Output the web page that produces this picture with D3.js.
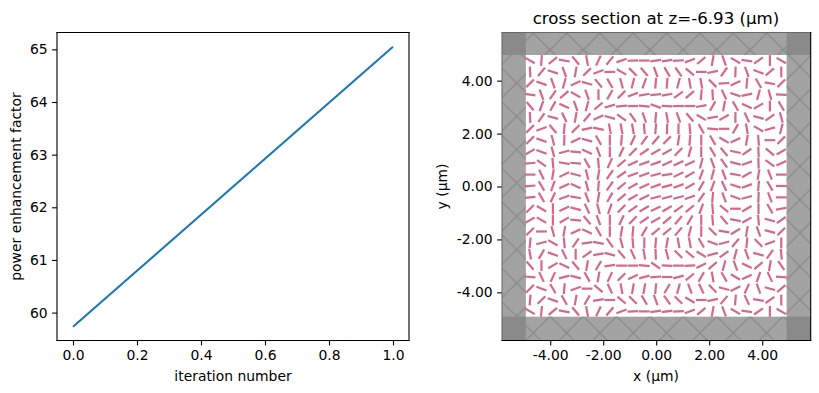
<!DOCTYPE html>
<html>
<head>
<meta charset="utf-8">
<script src="https://cdn.jsdelivr.net/npm/d3@7/dist/d3.min.js"></script>
<style>
  html, body { margin: 0; padding: 0; background: #fff; }
  svg { display: block; }
  text { font-family: 'DejaVu Sans', sans-serif; fill: #000; }
</style>
</head>
<body>
<svg id="chart" width="819" height="393"></svg>
<script>
// Left panel
const iterations = [0, 1];
const enhancement = [59.73, 65.05];
const iterTicks = [0, 0.2, 0.4, 0.6, 0.8, 1];
const enhTicks = [60, 61, 62, 63, 64, 65];

// Right panel: dash centres in um, same list for both directions
const gridCoords = [-4.76, -4.33, -3.90, -3.47, -3.04, -2.61, -2.18, -1.75, -1.31, -0.88, -0.45, -0.02,
  0.41, 0.84, 1.27, 1.70, 2.13, 2.56, 2.99, 3.42, 3.86, 4.29, 4.72];
const sectionTicks = [-4, -2, 0, 2, 4];
const pmlEdge = 4.92;
const pmlEdgeTop = 4.97;

// dash angle in degrees (counter clockwise from +x), one row per y, top row first
const row01 = [-30, 85, 40, -10, -50, -80, 65, 50, 20, 2, 0, 8, 8, 3, 20, 40, 80, -70, -30, -8, 35, 90, -30];
const row02 = [-87, 50, -18, -70, 80, 45, 20, 0, -30, -45, -50, -70, -60, -55, -40, 0, 12, 55, 88, -70, -20, 40, 90];
const row03 = [45, -20, -70, 75, 25, -15, -50, -60, -75, 75, 70, 85, 85, 75, -80, -80, -45, 3, 25, 85, -60, -10, 45];
const row04 = [-8, -70, 55, 40, -30, -70, 90, 60, 45, 20, 10, 5, 10, 35, 40, 85, -87, -65, -18, 12, 75, -75, -3];
const row05 = [-50, 70, 60, -25, -70, 75, 40, 15, 5, 0, -5, -20, -3, 0, 0, 10, 60, 80, -60, -25, 30, 90, -60];
const row06 = [-87, 55, -15, -65, 80, 50, 25, -15, -35, -55, -70, 85, -80, -70, -50, -30, 10, 30, 90, -65, -15, 35, -75];
const row07 = [45, 20, -50, 85, 45, 12, -12, -80, -80, -80, -85, 85, 88, 90, -85, -60, -5, 0, 60, -80, -30, 15, 75];
const row08 = [45, -20, -75, 88, 25, -15, -60, 90, 85, 65, 55, 50, 45, 80, 85, 90, -60, -30, 25, 80, -85, 0, 45];
const row09 = [30, -20, -75, 15, -5, -25, -70, 90, 65, 45, 35, 30, 30, 45, 75, 90, -60, -50, -12, 35, -88, -40, 30];
const row10 = [5, -35, -85, -10, -5, -60, -85, 65, 40, 25, 20, 20, 25, 25, 25, 75, -70, -55, -15, 20, -88, -35, 25];
const row11 = [0, -65, 80, 25, -15, -75, 80, 55, 35, 20, 20, 15, 8, 25, 30, 70, 75, -70, -10, 30, 80, -70, 0];
const row12 = [5, -60, 70, 25, -25, -75, 85, 55, 40, 30, 25, 20, 15, 20, 30, 60, 70, -65, -18, 20, 85, -60, 0];
const row13 = [5, -60, 65, 20, -10, -70, 80, 60, 40, 30, 25, 15, 15, 15, 20, 55, 85, -70, -20, 15, 88, -70, 0];
const row14 = [45, -30, 90, 25, -15, -65, -75, 70, 45, 35, 30, 25, 30, 35, 40, 70, -85, -40, 0, 30, -90, -60, 10];
const row15 = [30, -30, 90, 30, -5, -50, -70, 90, 65, 45, 35, 30, 40, 50, 60, 90, -85, -50, -10, 30, -85, -15, 35];
const row16 = [45, 0, -75, 80, 25, -25, -60, 90, 80, 85, 60, 40, 40, 50, 75, 90, -45, -10, 30, 80, -70, -15, 45];
const row17 = [85, 15, -30, -85, 55, 8, -10, -55, -75, -85, 90, 85, 80, -80, -80, -60, -20, 15, 50, 85, -45, 20, 90];
const row18 = [-80, 60, -20, -65, 90, 35, 10, -15, -50, -65, -80, -88, -75, -45, -40, -30, 15, 35, 75, -70, -15, 55, -85];
const row19 = [-50, 90, 30, -25, -50, 80, 60, 8, 0, 0, -5, -35, -3, 0, 3, 25, 40, 75, -70, -25, 40, 80, -55];
const row20 = [-5, -65, 65, 15, -15, -60, 80, 65, 45, 25, 15, 5, 0, 15, 40, 60, -80, -60, -30, 25, 70, -65, -3];
const row21 = [45, -20, -60, 85, 20, 0, -40, -65, -80, 80, 80, 85, 60, 75, -70, -65, -45, -15, 25, 65, -70, -15, 40];
const row22 = [85, 45, -20, -60, 80, 60, 10, 0, -40, -45, -60, -70, -55, -45, -30, 0, 12, 50, 85, -65, -10, 35, 90];
const row23 = [-30, 85, 40, -10, -50, -80, 65, 50, 20, 2, 0, 8, 8, 3, 20, 40, 80, -70, -30, -8, 35, 90, -30];
const angleRows = [row01, row02, row03, row04, row05, row06, row07, row08, row09, row10, row11, row12,
  row13, row14, row15, row16, row17, row18, row19, row20, row21, row22, row23];

const svg = d3.select('#chart');
const fontSize = 13.9;

function styleAxis(g) {
  g.selectAll('text').attr('font-size', fontSize);
  g.selectAll('line').attr('stroke', '#000').attr('stroke-width', 1.1);
  g.select('.domain').remove();
}

function frame(x0, x1, y0, y1, topColor, leftColor) {
  const sides = [
    [x0, y0, x1, y0, topColor],
    [x0, y0, x0, y1, leftColor],
    [x1, y0, x1, y1, '#000'],
    [x0, y1, x1, y1, '#000']
  ];
  svg.append('g').selectAll('line').data(sides).join('line')
    .attr('x1', d => d[0]).attr('y1', d => d[1])
    .attr('x2', d => d[2]).attr('y2', d => d[3])
    .attr('stroke', d => d[4])
    .attr('stroke-width', 1.1)
    .attr('stroke-linecap', 'square');
}

// ---- left panel ----
const lx = d3.scaleLinear().domain([-0.05, 1.05]).range([57, 409]);
const ly = d3.scaleLinear().domain([59.47, 65.32]).range([340.5, 32.5]);

svg.append('path')
  .datum(iterations.map((d, i) => [d, enhancement[i]]))
  .attr('fill', 'none')
  .attr('stroke', '#1f77b4')
  .attr('stroke-width', 2.08)
  .attr('d', d3.line().x(d => lx(d[0])).y(d => ly(d[1])));

svg.append('g')
  .attr('transform', 'translate(0,340.5)')
  .call(d3.axisBottom(lx).tickValues(iterTicks).tickFormat(d3.format('.1f')).tickSize(4.9).tickPadding(4.5))
  .call(styleAxis);

svg.append('g')
  .attr('transform', 'translate(57,0)')
  .call(d3.axisLeft(ly).tickValues(enhTicks).tickFormat(d3.format('d')).tickSize(4.9).tickPadding(4.5))
  .call(styleAxis);

frame(57, 409, 32.5, 340.5, '#000', '#000');

svg.append('text')
  .attr('x', 233).attr('y', 380.5)
  .attr('text-anchor', 'middle').attr('font-size', fontSize)
  .text('iteration number');

svg.append('text')
  .attr('transform', 'translate(20.5,186.5) rotate(-90)')
  .attr('text-anchor', 'middle').attr('font-size', fontSize)
  .text('power enhancement factor');

// ---- right panel ----
const sx = d3.scaleLinear().domain([-5.82, 5.83]).range([502, 810.7]);
const sy = d3.scaleLinear().domain([-5.82, 5.82]).range([340.5, 32.5]);
const hatchTile = 33.33;

const pattern = svg.append('defs').append('pattern')
  .attr('id', 'pml-hatch')
  .attr('patternUnits', 'userSpaceOnUse')
  .attr('x', 533.3)
  .attr('y', 333)
  .attr('width', hatchTile)
  .attr('height', hatchTile);
pattern.append('line').attr('x1', 0).attr('y1', 0).attr('x2', hatchTile).attr('y2', hatchTile);
pattern.append('line').attr('x1', 0).attr('y1', hatchTile).attr('x2', hatchTile).attr('y2', 0);
pattern.selectAll('line').attr('stroke', '#8a8a8a').attr('stroke-width', 1.3);

const xMin = sx.domain()[0], xMax = sx.domain()[1];
const yMin = sy.domain()[0], yMax = sy.domain()[1];

// bands around the simulation domain, corners are the overlap of two bands
const bands = [
  {x0: xMin, x1: xMax, y0: pmlEdgeTop, y1: yMax, fill: '#a3a3a3'},
  {x0: xMin, x1: xMax, y0: yMin, y1: -pmlEdge, fill: '#a3a3a3'},
  {x0: xMin, x1: -pmlEdge, y0: yMin, y1: yMax, fill: '#a3a3a3'},
  {x0: pmlEdge, x1: xMax, y0: yMin, y1: yMax, fill: '#a3a3a3'},
  {x0: xMin, x1: -pmlEdge, y0: pmlEdgeTop, y1: yMax, fill: '#8a8a8a'},
  {x0: pmlEdge, x1: xMax, y0: pmlEdgeTop, y1: yMax, fill: '#8a8a8a'},
  {x0: xMin, x1: -pmlEdge, y0: yMin, y1: -pmlEdge, fill: '#8a8a8a'},
  {x0: pmlEdge, x1: xMax, y0: yMin, y1: -pmlEdge, fill: '#8a8a8a'}
];

const bandGroup = svg.append('g');
bandGroup.selectAll('rect.band').data(bands).join('rect')
  .attr('class', 'band')
  .attr('x', d => sx(d.x0))
  .attr('y', d => sy(d.y1))
  .attr('width', d => sx(d.x1) - sx(d.x0))
  .attr('height', d => sy(d.y0) - sy(d.y1))
  .attr('fill', d => d.fill);
bandGroup.selectAll('rect.hatch').data(bands.slice(0, 4)).join('rect')
  .attr('class', 'hatch')
  .attr('x', d => sx(d.x0))
  .attr('y', d => sy(d.y1))
  .attr('width', d => sx(d.x1) - sx(d.x0))
  .attr('height', d => sy(d.y0) - sy(d.y1))
  .attr('fill', 'url(#pml-hatch)');

// polarization dashes
const dashes = [];
angleRows.forEach((row, j) => {
  row.forEach((angle, i) => {
    dashes.push({x: gridCoords[i], y: -gridCoords[j], angle: angle});
  });
});

const dashHalf = 5.4;
svg.append('g').selectAll('line').data(dashes).join('line')
  .attr('x1', d => sx(d.x) - dashHalf * Math.cos(d.angle * Math.PI / 180))
  .attr('y1', d => sy(d.y) + dashHalf * Math.sin(d.angle * Math.PI / 180))
  .attr('x2', d => sx(d.x) + dashHalf * Math.cos(d.angle * Math.PI / 180))
  .attr('y2', d => sy(d.y) - dashHalf * Math.sin(d.angle * Math.PI / 180))
  .attr('stroke', '#d4688f')
  .attr('stroke-width', 2.2);

svg.append('g')
  .attr('transform', 'translate(0,340.5)')
  .call(d3.axisBottom(sx).tickValues(sectionTicks).tickFormat(d => d.toFixed(2)).tickSize(4.9).tickPadding(4.5))
  .call(styleAxis);

svg.append('g')
  .attr('transform', 'translate(502,0)')
  .call(d3.axisLeft(sy).tickValues(sectionTicks).tickFormat(d => d.toFixed(2)).tickSize(4.9).tickPadding(4.5))
  .call(styleAxis);

frame(502, 810.7, 32.5, 340.5, '#6a6a6a', '#6a6a6a');

svg.append('text')
  .attr('x', 656).attr('y', 380.5)
  .attr('text-anchor', 'middle').attr('font-size', fontSize)
  .text('x (μm)');

svg.append('text')
  .attr('transform', 'translate(447,186.5) rotate(-90)')
  .attr('text-anchor', 'middle').attr('font-size', fontSize)
  .text('y (μm)');

svg.append('text')
  .attr('x', 656).attr('y', 24)
  .attr('text-anchor', 'middle').attr('font-size', 16.67)
  .text('cross section at z=-6.93 (μm)');
</script>
</body>
</html>
